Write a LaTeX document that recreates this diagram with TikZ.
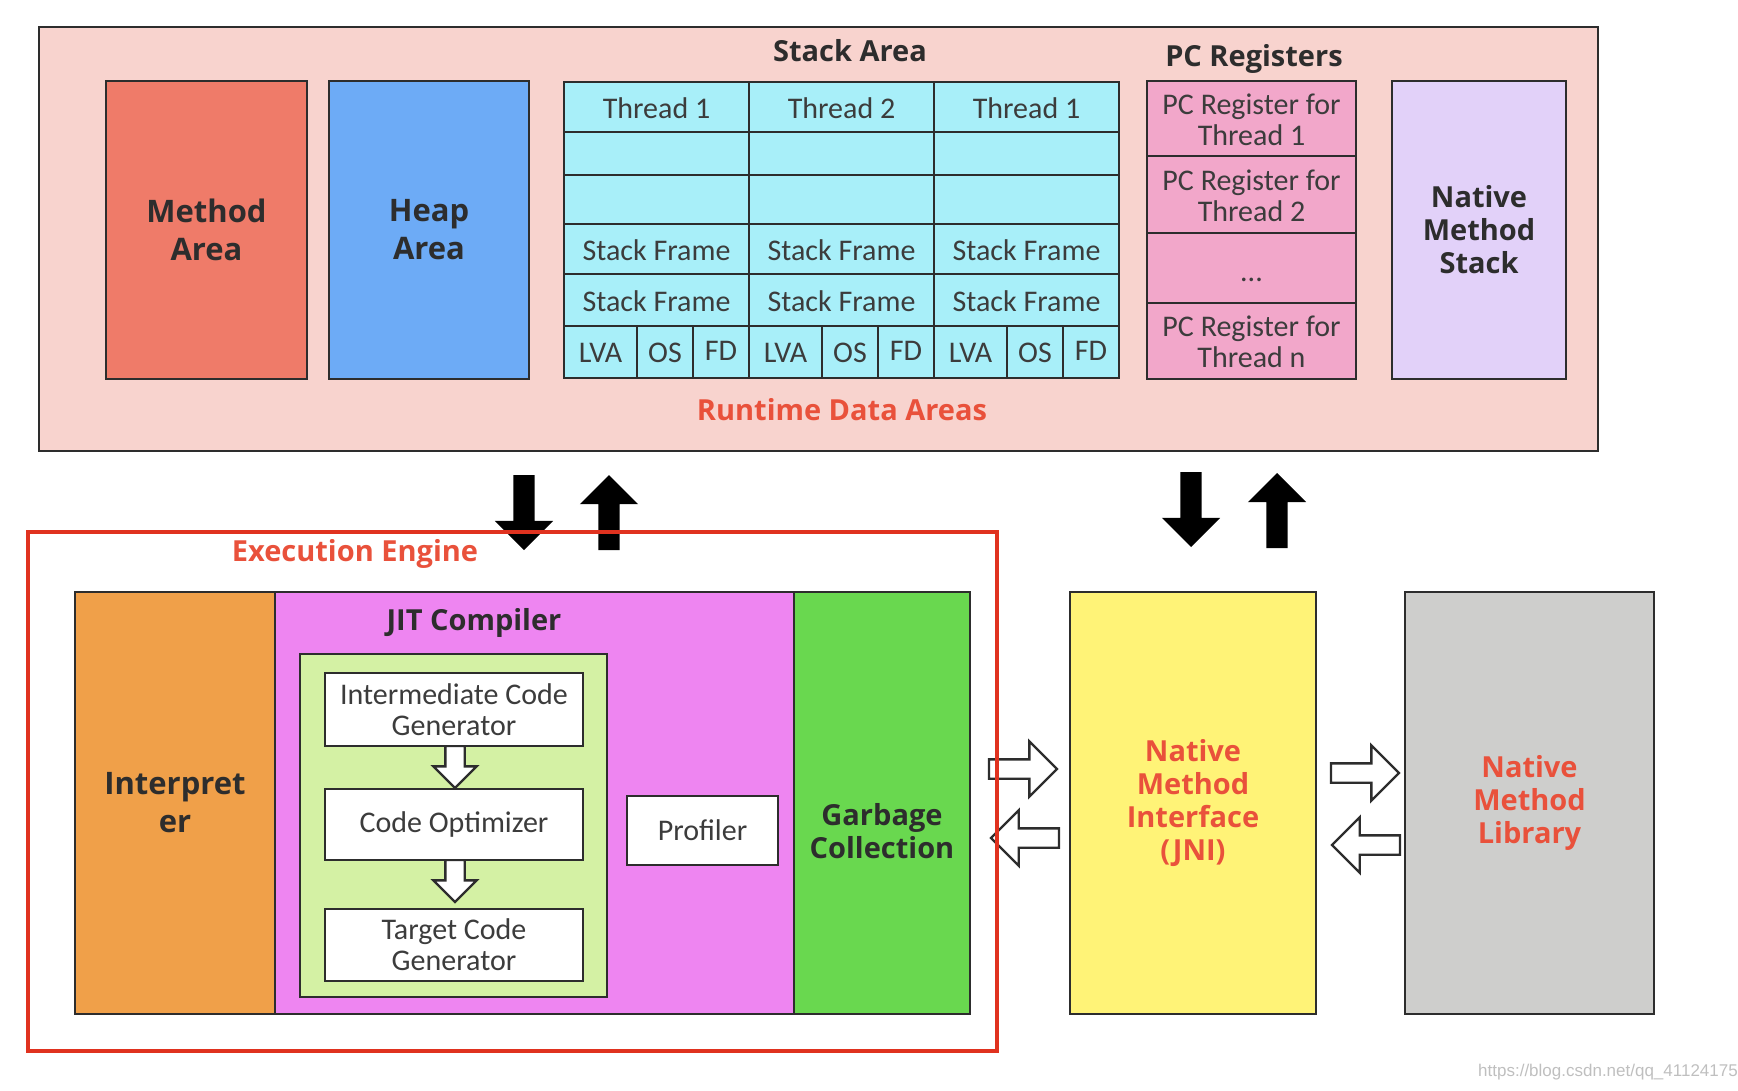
\documentclass[tikz,border=0pt]{standalone}
\usepackage{fontspec}
\setmainfont{Carlito}
\newfontfamily\headfont{Open Sans}
\newfontfamily\urlfont{Liberation Sans}
\usetikzlibrary{shapes.arrows}

\definecolor{darkline}{RGB}{45,45,45}
\definecolor{textgray}{RGB}{60,60,60}
\definecolor{rdapink}{RGB}{248,211,206}
\definecolor{methodred}{RGB}{239,123,105}
\definecolor{heapblue}{RGB}{109,171,246}
\definecolor{stackcyan}{RGB}{168,239,249}
\definecolor{pcpink}{RGB}{242,167,202}
\definecolor{nmslav}{RGB}{226,209,249}
\definecolor{interorange}{RGB}{240,160,73}
\definecolor{jitmagenta}{RGB}{238,133,241}
\definecolor{jitgreen}{RGB}{212,241,164}
\definecolor{gcgreen}{RGB}{105,216,79}
\definecolor{jniyellow}{RGB}{255,243,119}
\definecolor{nmlgray}{RGB}{206,206,204}
\definecolor{redtext}{RGB}{233,81,59}
\definecolor{redframe}{RGB}{224,50,31}

\tikzset{
  area/.style={draw=darkline, line width=2.8pt, inner sep=0pt, outer sep=0pt, anchor=north west, align=center},
  head/.style={font=\headfont\bfseries\fontsize{29}{33}\selectfont, text=darkline, align=center},
  bighead/.style={font=\headfont\bfseries\fontsize{31}{38}\selectfont, text=darkline, align=center},
  redhead/.style={head, text=redtext},
  txt/.style={font=\fontsize{30}{31}\selectfont, text=textgray, align=center, inner sep=0pt},
  gridline/.style={draw=darkline, line width=2.6pt},
  % vertical arrows: shaft half width is the x sep
  blackarr/.style={single arrow, fill=black, draw=none, inner xsep=10.5pt, inner ysep=0pt,
    single arrow head extend=18.5pt, minimum height=75pt, anchor=tail, outer sep=0pt},
  hollowarr/.style={single arrow, fill=white, draw=darkline, line width=2.4pt, inner xsep=0pt,
    inner ysep=8.5pt, single arrow head extend=18pt, minimum height=68pt, anchor=tail, outer sep=0pt},
  smallarr/.style={hollowarr, inner xsep=8.5pt, inner ysep=0pt, single arrow head extend=12pt, minimum height=42pt},
}

\begin{document}
\begin{tikzpicture}[x=1pt,y=1pt,yscale=-1]
\useasboundingbox (0,0) rectangle (1738,1090);

% Runtime Data Areas
\node[area, fill=rdapink, minimum width=1559, minimum height=424] (rda) at (39,27) {};
\node[head] (stacktitle) at (850,51) {Stack Area};
\node[head] (pctitle) at (1254,59) {PC Registers};
\node[redhead] (rdatitle) at (842,410) {Runtime Data Areas};

\node[area, fill=methodred, minimum width=201, minimum height=298, bighead] (method) at (106,81) {Method\\Area};
\node[area, fill=heapblue, minimum width=200, minimum height=298, bighead] (heap) at (329,81) {Heap\\Area};

% Stack area grid
\node[area, fill=stackcyan, minimum width=555, minimum height=296] (stack) at (564,82) {};
\foreach \y in {132,175,224,274,326}
  \draw[gridline] (564,\y) -- (1119,\y);
\foreach \x in {749,934}
  \draw[gridline] (\x,82) -- (\x,378);
\foreach \x/\t/\i in {564/1/a,749/2/b,934/1/c}{
  \draw[gridline] (\x+73,326) -- (\x+73,378);
  \draw[gridline] (\x+129,326) -- (\x+129,378);
  \node[txt] (thread\i) at (\x+92.5,108) {Thread \t};
  \node[txt] (frame\i1) at (\x+92.5,250) {Stack Frame};
  \node[txt] (frame\i2) at (\x+92.5,301) {Stack Frame};
  \node[txt] (lva\i) at (\x+36.5,353) {LVA};
  \node[txt] (os\i) at (\x+101,353) {OS};
  \node[txt] (fd\i) at (\x+157,351) {FD};
}

% PC registers
\node[area, fill=pcpink, minimum width=209, minimum height=298] (pcreg) at (1147,81) {};
\foreach \y in {156,233,303}
  \draw[gridline] (1147,\y) -- (1356,\y);
\node[txt] (pc1) at (1251.5,120) {PC Register for\\Thread 1};
\node[txt] (pc2) at (1251.5,196) {PC Register for\\Thread 2};
\node[txt] (pcdots) at (1251.5,280) {...};
\node[txt] (pcn) at (1251.5,342) {PC Register for\\Thread n};

\node[area, fill=nmslav, minimum width=174, minimum height=298, head] (nms) at (1392,81) {Native\\Method\\Stack};

% arrows between the areas
\node[blackarr, shape border rotate=270] (eeDown) at (524,475) {};
\node[blackarr, shape border rotate=90] (eeUp) at (609,550) {};
\node[blackarr, shape border rotate=270] (jniDown) at (1191,472) {};
\node[blackarr, shape border rotate=90] (jniUp) at (1277,548) {};

% Execution engine
\node[area, fill=interorange, minimum width=200, minimum height=422, bighead] (interp) at (75,592) {Interpret\\er};
\node[area, fill=jitmagenta, minimum width=519, minimum height=422] (jit) at (275,592) {};
\node[area, fill=gcgreen, minimum width=176, minimum height=422] (gc) at (794,592) {};
\node[head] (gclabel) at (882,831) {Garbage\\Collection};
\node[head] (jittitle) at (474,623) {JIT Compiler};

\node[area, fill=jitgreen, minimum width=307, minimum height=343] (jitcore) at (300,654) {};
\node[smallarr, shape border rotate=270] (icgArr) at (455,746) {};
\node[smallarr, shape border rotate=270] (coptArr) at (455,860) {};
\node[area, fill=white, minimum width=258, minimum height=73, txt] (icg) at (325,673) {Intermediate Code\\Generator};
\node[area, fill=white, minimum width=258, minimum height=71, txt] (copt) at (325,789) {Code Optimizer};
\node[area, fill=white, minimum width=258, minimum height=72, txt] (tcg) at (325,909) {Target Code\\Generator};
\node[area, fill=white, minimum width=151, minimum height=69, txt] (profiler) at (627,796) {Profiler};

% native side
\node[area, fill=jniyellow, minimum width=246, minimum height=422, redhead] (jni) at (1070,592) {Native\\Method\\Interface\\(JNI)};
\node[area, fill=nmlgray, minimum width=249, minimum height=422, redhead] (nml) at (1405,592) {Native\\Method\\Library};

\node[hollowarr, shape border rotate=0] (toJni) at (989,769) {};
\node[hollowarr, shape border rotate=180] (fromJni) at (1059,838) {};
\node[hollowarr, shape border rotate=0] (toNml) at (1331,773) {};
\node[hollowarr, shape border rotate=180] (fromNml) at (1400,845) {};

% red frame on top
\draw[redframe, line width=4.5pt] (28,532) rectangle (997,1051);
\node[redhead] (eetitle) at (355,554) {Execution Engine};

\node[font=\urlfont\fontsize{17}{20}\selectfont, text=black!25] (url) at (1608,1072) {https://blog.csdn.net/qq\_41124175};
\end{tikzpicture}
\end{document}
